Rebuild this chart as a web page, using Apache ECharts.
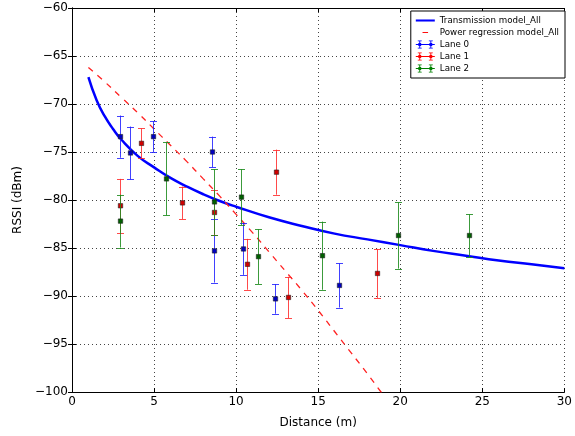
<!DOCTYPE html>
<html>
<head>
<meta charset="utf-8">
<script src="https://cdn.jsdelivr.net/npm/echarts@6/dist/echarts.min.js"></script>
<style>
html,body{margin:0;padding:0;background:#fff;}
#chart{width:575px;height:436px;}
</style>
</head>
<body>
<div id="chart"></div>
<script>
// ---- data ----
const xTicks = [0, 5, 10, 15, 20, 25, 30];
const yTicks = [-100, -95, -90, -85, -80, -75, -70, -65, -60];

const transX = [1, 1.5, 2, 2.5, 3, 4, 5, 6, 7, 8, 9, 10, 12, 14, 16, 18, 20, 22, 24, 26, 28, 30];
const transY = [-67.2, -69.6, -71.3, -72.6, -73.7, -75.4, -76.6, -77.7, -78.6, -79.4, -80.1, -80.7, -81.8, -82.7, -83.5, -84.1, -84.7, -85.3, -85.8, -86.3, -86.7, -87.1];

const powerX = [1, 2, 3, 4, 5, 6, 7, 8, 9, 10, 11, 12, 13, 14, 15, 16, 17, 18, 19];
const powerY = [-66.2, -67.7, -69.3, -70.9, -72.6, -74.3, -76.0, -77.8, -79.6, -81.5, -83.4, -85.4, -87.4, -89.4, -91.5, -93.7, -95.9, -98.1, -100.4];

const lane0X = [2.93, 3.55, 4.93, 8.52, 8.63, 10.42, 12.36, 16.28];
const lane0Y = [-73.4, -75.1, -73.4, -75.0, -85.3, -85.1, -90.3, -88.9];
const lane0Err = [2.2, 2.75, 1.6, 1.6, 3.3, 2.7, 1.55, 2.3];

const lane1X = [2.93, 4.18, 6.7, 8.63, 10.65, 12.4, 13.17, 18.6];
const lane1Y = [-80.6, -74.1, -80.3, -81.3, -86.7, -77.1, -90.15, -87.65];
const lane1Err = [2.8, 1.55, 1.7, 2.35, 2.65, 2.35, 2.15, 2.55];

const lane2X = [2.93, 5.74, 8.63, 10.28, 11.35, 15.25, 19.84, 24.2];
const lane2Y = [-82.2, -77.8, -80.2, -79.7, -85.9, -85.8, -83.7, -83.7];
const lane2Err = [2.75, 3.8, 3.4, 2.9, 2.85, 3.55, 3.45, 2.2];

const seriesNames = ['Transmission model_All', 'Power regression model_All', 'Lane 0', 'Lane 1', 'Lane 2'];

// ---- chart ----
const FONT = 'DejaVu Sans';
const pair = (xs, ys) => xs.map((x, i) => [x, ys[i]]);
const triple = (xs, ys, es) => xs.map((x, i) => [x, ys[i], es[i]]);
const minus = v => String(v).replace('-', '\u2212');

function errRenderer(barColor, faceColor) {
  return function (params, api) {
    const x = api.value(0), y = api.value(1), e = api.value(2);
    const c = api.coord([x, y]);
    const t = api.coord([x, y + e]);
    const b = api.coord([x, y - e]);
    const px = Math.round(c[0]) + 0.5;
    const hw = 3.5;
    const ls = { stroke: barColor, lineWidth: 1, opacity: 0.85 };
    return {
      type: 'group',
      children: [
        { type: 'line', shape: { x1: px, y1: t[1], x2: px, y2: b[1] }, style: ls },
        { type: 'line', shape: { x1: px - hw, y1: Math.round(t[1]) + 0.5, x2: px + hw, y2: Math.round(t[1]) + 0.5 }, style: ls },
        { type: 'line', shape: { x1: px - hw, y1: Math.round(b[1]) + 0.5, x2: px + hw, y2: Math.round(b[1]) + 0.5 }, style: ls },
        { type: 'rect', shape: { x: px - 2.2, y: c[1] - 2.2, width: 4.4, height: 4.4 }, style: { fill: faceColor, stroke: '#222', lineWidth: 0.6 } }
      ]
    };
  };
}

const errIcon = 'path://M0,4.4H24V5.6H0Z M4.4,0H5.6V10H4.4Z M18.4,0H19.6V10H18.4Z M2.5,0H7.5V1H2.5Z M2.5,9H7.5V10H2.5Z M16.5,0H21.5V1H16.5Z M16.5,9H21.5V10H16.5Z M3.2,3.2H6.8V6.8H3.2Z M17.2,3.2H20.8V6.8H17.2Z';
const solidIcon = 'path://M0,0L0,0 M24,10L24,10 M0,3.7H24V6.3H0Z';
const dashIcon = 'path://M0,0L0,0 M24,10L24,10 M8.5,4.4H15.5V5.6H8.5Z';

const gridLine = { show: true, lineStyle: { color: '#444', type: [1, 3], width: 1 } };
const axLine = { show: true, lineStyle: { color: '#000', width: 1 } };
const tick = { show: true, inside: true, length: 4, lineStyle: { color: '#000' } };

const chart = echarts.init(document.getElementById('chart'), null, { renderer: 'canvas' });
chart.setOption({
  animation: false,
  backgroundColor: '#fff',
  textStyle: { fontFamily: FONT },
  grid: { left: 72, right: 8, top: 8, bottom: 44 },
  legend: {
    orient: 'vertical',
    right: 10,
    top: 11,
    backgroundColor: '#fff',
    borderColor: '#000',
    borderWidth: 1,
    borderRadius: 0,
    padding: [5, 6, 5, 5],
    itemGap: 3,
    itemWidth: 19,
    itemHeight: 9,
    textStyle: { fontFamily: FONT, fontSize: 8.7, color: '#000' },
    data: [
      { name: seriesNames[0], icon: solidIcon },
      { name: seriesNames[1], icon: dashIcon },
      { name: seriesNames[2], icon: errIcon },
      { name: seriesNames[3], icon: errIcon },
      { name: seriesNames[4], icon: errIcon }
    ]
  },
  xAxis: [
    {
      type: 'value', min: 0, max: 30, interval: 5, position: 'bottom',
      name: 'Distance (m)', nameLocation: 'middle', nameGap: 25,
      nameTextStyle: { fontFamily: FONT, fontSize: 12, color: '#000' },
      axisLine: axLine, axisTick: tick, splitLine: gridLine,
      axisLabel: { fontFamily: FONT, fontSize: 12, color: '#000', margin: 4 }
    },
    {
      type: 'value', min: 0, max: 30, interval: 5, position: 'top',
      axisLine: axLine, axisTick: tick, splitLine: { show: false }, axisLabel: { show: false }
    }
  ],
  yAxis: [
    {
      type: 'value', min: -100, max: -60, interval: 5, position: 'left',
      name: 'RSSI (dBm)', nameLocation: 'middle', nameGap: 43, nameRotate: 90,
      nameTextStyle: { fontFamily: FONT, fontSize: 12, color: '#000' },
      axisLine: axLine, axisTick: tick, splitLine: gridLine,
      axisLabel: { fontFamily: FONT, fontSize: 12, color: '#000', margin: 4, formatter: minus }
    },
    {
      type: 'value', min: -100, max: -60, interval: 5, position: 'right',
      axisLine: axLine, axisTick: tick, splitLine: { show: false }, axisLabel: { show: false }
    }
  ],
  series: [
    {
      name: seriesNames[0], type: 'line', data: pair(transX, transY), smooth: true,
      symbol: 'none', color: '#0000ff', lineStyle: { color: '#0000ff', width: 2.5 }, z: 2
    },
    {
      name: seriesNames[1], type: 'line', data: pair(powerX, powerY), smooth: true,
      symbol: 'none', color: '#ff0000', lineStyle: { color: '#ff2020', width: 1.3, type: [6, 6] }, z: 2
    },
    {
      name: seriesNames[2], type: 'custom', color: '#0000ff', data: triple(lane0X, lane0Y, lane0Err),
      encode: { x: 0, y: 1 }, renderItem: errRenderer('#2020ff', '#0000c0'), z: 3
    },
    {
      name: seriesNames[3], type: 'custom', color: '#ff0000', data: triple(lane1X, lane1Y, lane1Err),
      encode: { x: 0, y: 1 }, renderItem: errRenderer('#ff2a2a', '#d00000'), z: 4
    },
    {
      name: seriesNames[4], type: 'custom', color: '#008000', data: triple(lane2X, lane2Y, lane2Err),
      encode: { x: 0, y: 1 }, renderItem: errRenderer('#1a8a1a', '#006000'), z: 5
    }
  ]
});
</script>
</body>
</html>
